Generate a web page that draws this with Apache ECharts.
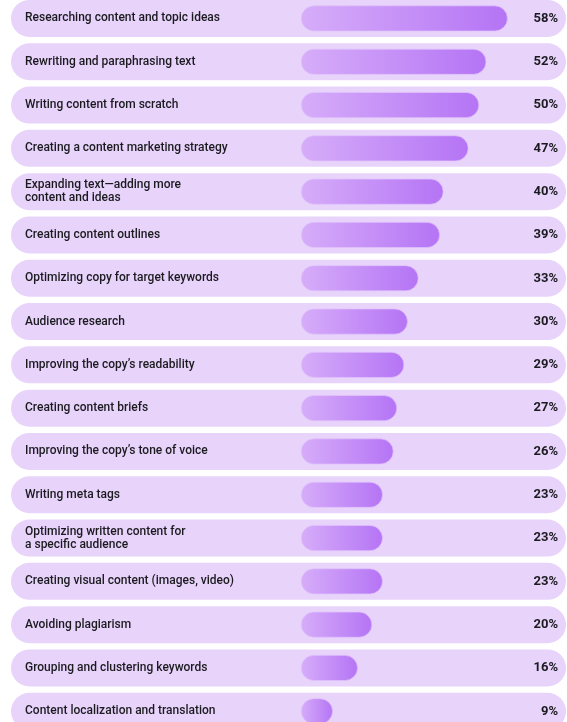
<!DOCTYPE html>
<html>
<head>
<meta charset="utf-8">
<script src="https://cdn.jsdelivr.net/npm/echarts@6/dist/echarts.min.js"></script>
<style>
html,body{margin:0;padding:0;background:#ffffff;}
#chart{width:567px;height:722px;}
</style>
</head>
<body>
<div id="chart"></div>
<script>
const categories = [
  "Researching content and topic ideas",
  "Rewriting and paraphrasing text",
  "Writing content from scratch",
  "Creating a content marketing strategy",
  "Expanding text\u2014adding more\ncontent and ideas",
  "Creating content outlines",
  "Optimizing copy for target keywords",
  "Audience research",
  "Improving the copy\u2019s readability",
  "Creating content briefs",
  "Improving the copy\u2019s tone of voice",
  "Writing meta tags",
  "Optimizing written content for\na specific audience",
  "Creating visual content (images, video)",
  "Avoiding plagiarism",
  "Grouping and clustering keywords",
  "Content localization and translation"
];
const values = [58, 52, 50, 47, 40, 39, 33, 30, 29, 27, 26, 23, 23, 23, 20, 16, 9];

const chart = echarts.init(document.getElementById('chart'), null, {renderer: 'canvas'});

const barGradient = new echarts.graphic.LinearGradient(0, 0, 1, 0, [
  {offset: 0, color: '#d6adf9'},
  {offset: 1, color: '#b574f5'}
]);

chart.setOption({
  backgroundColor: '#ffffff',
  animation: false,
  grid: {left: 11, width: 555, top: -3.2, height: 736.1, containLabel: false, outerBoundsMode: 'none'},
  xAxis: {
    type: 'value', min: -81.2, max: 74.3,
    show: false
  },
  yAxis: [
    {
      type: 'category', data: categories, inverse: true,
      axisLine: {show: false}, axisTick: {show: false}, splitLine: {show: false},
      axisLabel: {
        inside: true, margin: 14, align: 'left',
        fontFamily: 'Roboto', fontSize: 12, fontWeight: 500, color: '#1b1b1f',
        lineHeight: 13, padding: [3, 0, 0, 0]
      },
      z: 10
    },
    {
      type: 'category', data: categories, inverse: true, position: 'right',
      axisLine: {show: false}, axisTick: {show: false}, splitLine: {show: false},
      axisLabel: {
        inside: true, margin: 8, align: 'right',
        fontFamily: 'Roboto', fontSize: 13, fontWeight: 700, color: '#1b1b1f',
        padding: [2, 0, 0, 0],
        formatter: function (v, i) { return values[i] + '%'; }
      },
      z: 10
    }
  ],
  series: [
    {
      type: 'custom',
      yAxisIndex: 0,
      data: categories.map(function (c, i) { return [0, i]; }),
      encode: {x: 0, y: 1},
      z: 1,
      renderItem: function (params, api) {
        const cs = params.coordSys;
        const c = api.coord([0, api.value(1)]);
        const band = api.size([0, 1])[1];
        const h = band * 0.855;
        return {
          type: 'rect',
          shape: {x: cs.x, y: c[1] - h / 2, width: cs.width, height: h, r: h / 2},
          style: {fill: '#e8d3fb'}
        };
      }
    },
    {
      type: 'bar',
      yAxisIndex: 0,
      data: values,
      barWidth: 26,
      z: 3,
      itemStyle: {
        color: barGradient,
        borderRadius: 13,
        borderColor: 'rgba(225,195,252,0.9)',
        borderWidth: 0.8
      }
    }
  ]
});
</script>
</body>
</html>
